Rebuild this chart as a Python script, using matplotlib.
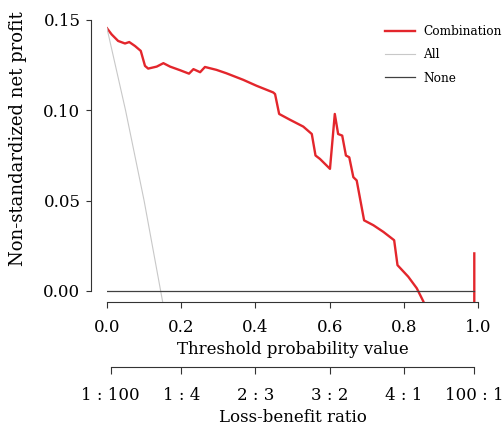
import numpy as np
import matplotlib
matplotlib.use("Agg")
import matplotlib.pyplot as plt

plt.rcParams['font.family'] = ['DejaVu Serif']

# decision curve
thresh = [0.0, 0.0126, 0.030, 0.0485, 0.060, 0.0755, 0.091, 0.1024, 0.111, 0.134,
          0.152, 0.170, 0.197, 0.221, 0.233, 0.251, 0.264, 0.295, 0.322, 0.367,
          0.403, 0.448, 0.453, 0.464, 0.493, 0.529, 0.552, 0.562, 0.574, 0.601,
          0.614, 0.623, 0.634, 0.644, 0.653, 0.664, 0.673, 0.693, 0.718, 0.745,
          0.774, 0.783, 0.812, 0.835, 0.853, 0.90, 0.99, 0.99]
combo = [0.1454, 0.1420, 0.1384, 0.1370, 0.1378, 0.1356, 0.1329, 0.1246, 0.1231, 0.1242,
         0.1261, 0.1242, 0.1222, 0.1203, 0.1228, 0.1211, 0.1240, 0.1224, 0.1205, 0.1169,
         0.1136, 0.1099, 0.1090, 0.0980, 0.0948, 0.0910, 0.0869, 0.0750, 0.0731, 0.0676,
         0.0980, 0.0869, 0.0860, 0.0750, 0.0740, 0.0630, 0.0612, 0.0391, 0.0364, 0.0327,
         0.0281, 0.0143, 0.0079, 0.0015, -0.0059, -0.04, -0.2, 0.0208]

all_t = [0.0, 0.05, 0.10, 0.15, 0.20]
all_nb = [0.1454, 0.1000, 0.0500, -0.0060, -0.0680]

none_t = [0.0, 0.99]
none_nb = [0.0, 0.0]

ratio_pos = [0.01, 0.2, 0.4, 0.6, 0.8, 0.99]
ratio_lab = ['1 : 100', '1 : 4', '2 : 3', '3 : 2', '4 : 1', '100 : 1']

W, H = 503, 428
fig = plt.figure(figsize=(W / 100, H / 100), dpi=100)
ax = fig.add_axes([107 / W, 1 - 302 / H, 371 / W, 282 / H])

ax.plot(thresh, combo, color='#e3262c', lw=1.7, label='Combination')
ax.plot(all_t, all_nb, color='#c8c8c8', lw=0.8, label='All')
ax.plot(none_t, none_nb, color='#404040', lw=0.9, label='None')

ax.set_xlim(0, 1)
ax.set_ylim(-0.0061, 0.15)

for s in ['top', 'right']:
    ax.spines[s].set_visible(False)
ax.spines['left'].set_position(('outward', 11.5))
ax.spines['left'].set_bounds(0, 0.15)
ax.spines['bottom'].set_bounds(0, 1)
for s in ['left', 'bottom']:
    ax.spines[s].set_linewidth(0.8)
    ax.spines[s].set_color('#333333')

ax.set_yticks([0, 0.05, 0.10, 0.15])
ax.set_yticklabels(['0.00', '0.05', '0.10', '0.15'])
ax.set_xticks([0, 0.2, 0.4, 0.6, 0.8, 1.0])
ax.set_xticklabels(['0.0', '0.2', '0.4', '0.6', '0.8', '1.0'])
ax.tick_params(axis='y', length=3.6, width=0.8, pad=4, labelsize=12, color='#333333')
ax.tick_params(axis='x', length=4, width=0.8, pad=8, labelsize=12, color='#333333')

# loss-benefit ratio axis
sec = ax.secondary_xaxis(-0.2305)
sec.set_xticks(ratio_pos)
sec.set_xticklabels(ratio_lab)
sec.tick_params(length=5, width=0.8, pad=9.5, labelsize=12, color='#333333')
sec.spines['bottom'].set_bounds(0.01, 0.99)
sec.spines['bottom'].set_linewidth(0.8)
sec.spines['bottom'].set_color('#333333')

fig.text(293 / W, 1 - 349 / H, 'Threshold probability value', ha='center', va='center', fontsize=12)
fig.text(293 / W, 1 - 417 / H, 'Loss-benefit ratio', ha='center', va='center', fontsize=12)
fig.text(18 / W, 1 - 139 / H, 'Non-standardized net profit', ha='center', va='center',
         rotation=90, fontsize=13)

fig.legend(loc='upper left', bbox_to_anchor=(385 / W, 1 - 25 / H), frameon=False,
           fontsize=8.7, handlelength=2.48, handletextpad=0.66, labelspacing=0.85,
           borderpad=0, borderaxespad=0)

fig.savefig('out.png', dpi=100)
